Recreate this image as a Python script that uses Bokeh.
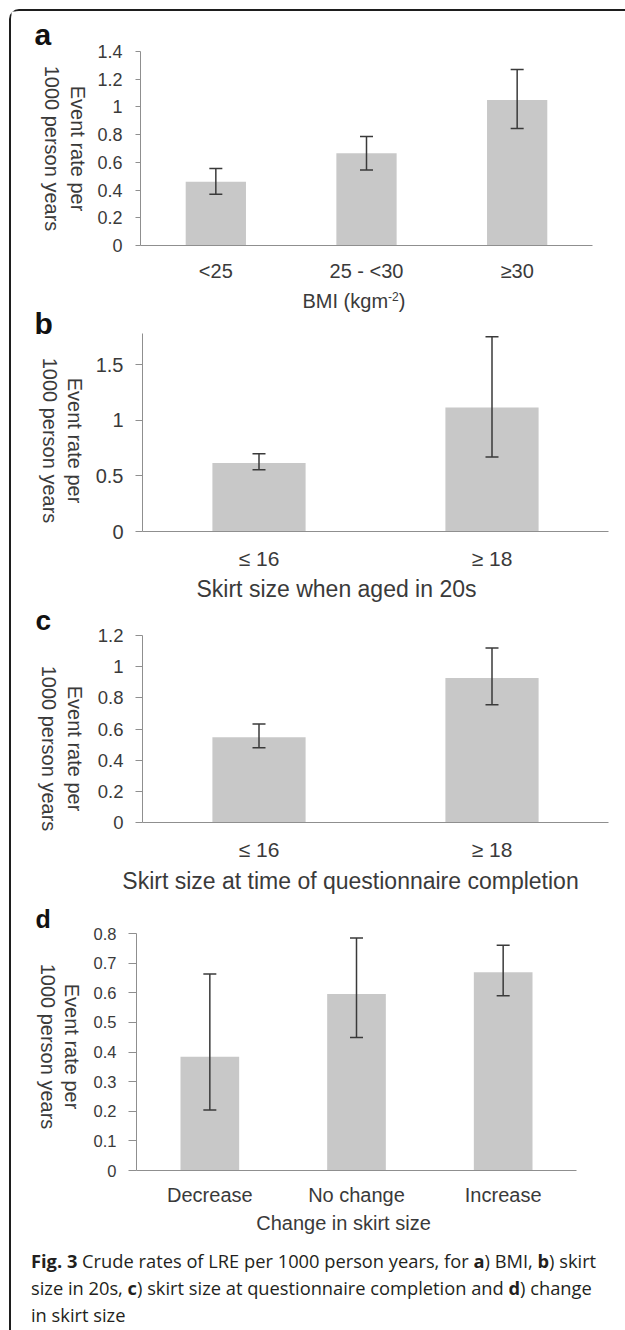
import math
from bokeh.plotting import figure
from bokeh.models import (ColumnDataSource, Range1d, FactorRange, FixedTicker, Whisker,
                          TeeHead, Div, CustomJSTickFormatter)
from bokeh.core.properties import value
from bokeh.layouts import column, row
from bokeh.embed import file_html
from bokeh.resources import INLINE

# ---------------- data ----------------
cats_a = ["<25", "25 - <30", "\u226530"]
rate_a = [0.46, 0.665, 1.05]
low_a = [0.37, 0.545, 0.845]
high_a = [0.555, 0.787, 1.27]

cats_b = ["\u2264 16", "\u2265 18"]
rate_b = [0.616, 1.114]
low_b = [0.556, 0.670]
high_b = [0.700, 1.751]

cats_c = ["\u2264 16", "\u2265 18"]
rate_c = [0.547, 0.927]
low_c = [0.479, 0.756]
high_c = [0.632, 1.120]

cats_d = ["Decrease", "No change", "Increase"]
rate_d = [0.384, 0.596, 0.669]
low_d = [0.204, 0.449, 0.590]
high_d = [0.663, 0.785, 0.760]

ticks_a = [0, 0.2, 0.4, 0.6, 0.8, 1.0, 1.2, 1.4]
ticks_b = [0, 0.5, 1.0, 1.5]
ticks_c = [0, 0.2, 0.4, 0.6, 0.8, 1.0, 1.2]
ticks_d = [0, 0.1, 0.2, 0.3, 0.4, 0.5, 0.6, 0.7, 0.8]

ylab1 = "Event rate per"
ylab2 = "1000 person years"
xtitle_b = "Skirt size when aged in 20s"
xtitle_c = "Skirt size at time of questionnaire completion"
xtitle_d = "Change in skirt size"

# ---------------- style / layout (page pixels) ----------------
FONT = "Liberation Sans"
TXT = "#3a3a3a"
AXIS = "#8f8f8f"
BAR = "#c8c8c8"
ERR = "#3a3a3a"

X0, Y0 = 11, 11          # content origin (inside frame border)
SPLIT = 90               # page x where the chart column starts
RIGHT = 623              # right edge of chart column
TOP_END = 1247           # bottom of chart area (caption starts)
LEFT_W = SPLIT - X0
MAIN_W = RIGHT - SPLIT
MID = 0.35               # baseline -> text-box middle, in em


def no_align(p):
    try:
        p.frame_align = False
    except Exception:
        pass


def main_panel(cats, rate, low, high, yend, yticks, top, f_left, f_top, f_right, f_bot,
               ytick_size, xtick_size, xstand, ytick_out, ystand, bottom_pad):
    h = f_bot + bottom_pad - top
    p = figure(width=MAIN_W, height=h, x_range=FactorRange(*cats),
               y_range=Range1d(0, yend), output_backend="svg", toolbar_location=None,
               min_border_left=f_left - SPLIT, min_border_top=f_top - top,
               min_border_right=RIGHT - f_right, min_border_bottom=bottom_pad)
    no_align(p)
    p.outline_line_color = None
    p.xgrid.visible = False
    p.ygrid.visible = False

    src = ColumnDataSource(dict(cat=cats, rate=rate, low=low, high=high))
    p.vbar(x="cat", top="rate", width=0.4, source=src, fill_color=BAR, line_color=None)
    p.add_layout(Whisker(source=src, base="cat", upper="high", lower="low",
                         dimension="height", line_color=ERR, line_width=1.5, level="overlay",
                         upper_head=TeeHead(size=13, line_color=ERR, line_width=1.5),
                         lower_head=TeeHead(size=13, line_color=ERR, line_width=1.5)))

    xa = p.xaxis[0]
    xa.axis_line_color = AXIS
    xa.major_tick_line_color = None
    xa.minor_tick_line_color = None
    xa.major_label_text_font = FONT
    xa.major_label_text_font_size = f"{xtick_size}px"
    xa.major_label_text_color = TXT
    xa.major_label_standoff = xstand

    ya = p.yaxis[0]
    ya.ticker = FixedTicker(ticks=yticks)
    ya.formatter = CustomJSTickFormatter(code="return (Math.round(tick * 100) / 100).toString();")
    ya.axis_line_color = AXIS
    ya.major_tick_line_color = AXIS
    ya.major_tick_in = 0
    ya.major_tick_out = ytick_out
    ya.minor_tick_line_color = None
    ya.major_label_text_font = FONT
    ya.major_label_text_font_size = f"{ytick_size}px"
    ya.major_label_text_color = TXT
    ya.major_label_standoff = ystand
    return p, top + h


def text_fig(w, h):
    f = figure(width=w, height=h, x_range=Range1d(0, w), y_range=Range1d(0, h),
               x_axis_type=None, y_axis_type=None, output_backend="svg",
               toolbar_location=None, min_border=0)
    no_align(f)
    f.outline_line_color = None
    f.xgrid.visible = False
    f.ygrid.visible = False
    return f


def title_fig(top, bottom, items):
    f = text_fig(MAIN_W, bottom - top)
    for txt, px, base, size, align in items:
        f.text(x=[px - SPLIT], y=[bottom - (base - MID * size)], text=[txt],
               text_font=value(FONT), text_font_size=value(f"{size}px"), text_color=TXT,
               text_align=align, text_baseline="middle")
    return f


# panel a
pa, ya_end = main_panel(cats_a, rate_a, low_a, high_a, 1.4, ticks_a, Y0, 140, 51, 592, 245,
                        18, 20, 8, 5, 13, 40)
ta = title_fig(ya_end, 314, [("BMI (kgm", 302, 307, 20, "left"),
                             ("-2", 387.6, 300, 12, "left"),
                             (")", 398.3, 307, 20, "left")])
# panel b
pb, yb_end = main_panel(cats_b, rate_b, low_b, high_b, 1.78, ticks_b, 314, 142, 333, 608, 531,
                        20, 21, 9, 7, 12, 42)
tb = title_fig(yb_end, 606, [(xtitle_b, 336, 596.5, 23, "center")])
# panel c
pc, yc_end = main_panel(cats_c, rate_c, low_c, high_c, 1.2, ticks_c, 606, 142, 635, 608, 822,
                        18.5, 21, 9, 7, 12, 42)
tc = title_fig(yc_end, 898, [(xtitle_c, 350, 889, 23, "center")])
# panel d
pd, yd_end = main_panel(cats_d, rate_d, low_d, high_d, 0.8, ticks_d, 898, 136, 933, 576, 1170,
                        16.5, 20, 7, 8, 12, 39)
td = title_fig(yd_end, TOP_END, [(xtitle_d, 343, 1229, 20, "center")])

# left column: panel letters and rotated y-axis titles
left = text_fig(LEFT_W, TOP_END - Y0)
letters = [("a", 34, 44, 30), ("b", 34, 333.3, 30), ("c", 35, 630, 28), ("d", 35, 927, 25)]
for t, px, base, size in letters:
    left.text(x=[px - X0], y=[TOP_END - (base - MID * size)], text=[t], text_font=value(FONT),
              text_font_style="bold", text_font_size=value(f"{size}px"), text_color="#111111",
              text_align="left", text_baseline="middle")
ylabel_pos = [(77, 51, 148), (74, 49, 440), (74, 48, 748), (71, 47.5, 1046)]
for c1, c2, cy in ylabel_pos:
    left.text(x=[c1 - X0, c2 - X0], y=[TOP_END - cy, TOP_END - cy], text=[ylab1, ylab2],
              angle=-math.pi / 2, text_font=value(FONT), text_font_size=value("20px"),
              text_color=TXT, text_align="center", text_baseline="middle")

caption = Div(
    text=('<div style="position:relative; top:-5px; padding-left:15px; '
          'font-family:\'Open Sans\'; font-size:18.3px; '
          'line-height:27px; color:#231f20; white-space:nowrap;">'
          '<b>Fig. 3</b> Crude rates of LRE per 1000 person years, for <b>a</b>) BMI, <b>b</b>) skirt<br>'
          'size in 20s, <b>c</b>) skirt size at questionnaire completion and <b>d</b>) change<br>'
          'in skirt size</div>'),
    width=LEFT_W + MAIN_W, height=80)

charts = row(left, column(pa, ta, pb, tb, pc, tc, pd, td))
layout = column(charts, caption,
                styles={"margin": "9px 0 0 9px",
                        "border-top": "2px solid #1e1e1e", "border-left": "2px solid #1e1e1e",
                        "border-top-left-radius": "10px"})

open("out.html", "w").write(file_html(layout, INLINE))
